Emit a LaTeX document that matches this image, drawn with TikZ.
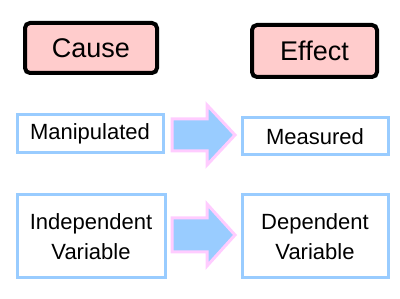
\documentclass[tikz,border=0pt]{standalone}
\usepackage{fontspec}
\setmainfont{Liberation Sans}
\definecolor{hdrpink}{HTML}{FFCCCC}
\definecolor{boxblue}{HTML}{99CCFF}
\definecolor{arrpink}{HTML}{FFCCFF}
\tikzset{
  hdr/.style={draw=black, line width=4pt, rounded corners=5pt, fill=hdrpink, font=\fontsize{27}{30}\selectfont, inner sep=0pt},
  varbox/.style={draw=boxblue, line width=3pt, fill=white, font=\fontsize{22}{30}\selectfont, align=center, inner sep=0pt},
  bigarrow/.style={draw=arrpink, line width=3pt, fill=boxblue, line join=miter}
}
\begin{document}
\begin{tikzpicture}[x=1pt,y=1pt]
\useasboundingbox (0,0) rectangle (400,299);
\node[hdr, minimum width=132, minimum height=50] (cause) at (91,251) {Cause};
\node[hdr, minimum width=125, minimum height=52] (effect) at (314.5,248) {Effect};
\node[varbox, minimum width=146, minimum height=38] (manip) at (90,165) {Manipulated};
\node[varbox, minimum width=146, minimum height=37] (meas) at (315,162.5) {Measured};
\node[varbox, minimum width=148, minimum height=83] (indep) at (91,62.5) {Independent\\Variable};
\node[varbox, minimum width=146, minimum height=83] (dep) at (315,62.5) {Dependent\\Variable};
% block arrows
\draw[bigarrow] (172,180) -- (207,180) -- (207,194) -- (235,164) -- (207,134) -- (207,148) -- (172,148) -- cycle;
\draw[bigarrow] (172,81) -- (207,81) -- (207,95) -- (235,64) -- (207,33) -- (207,47) -- (172,47) -- cycle;
\end{tikzpicture}
\end{document}
